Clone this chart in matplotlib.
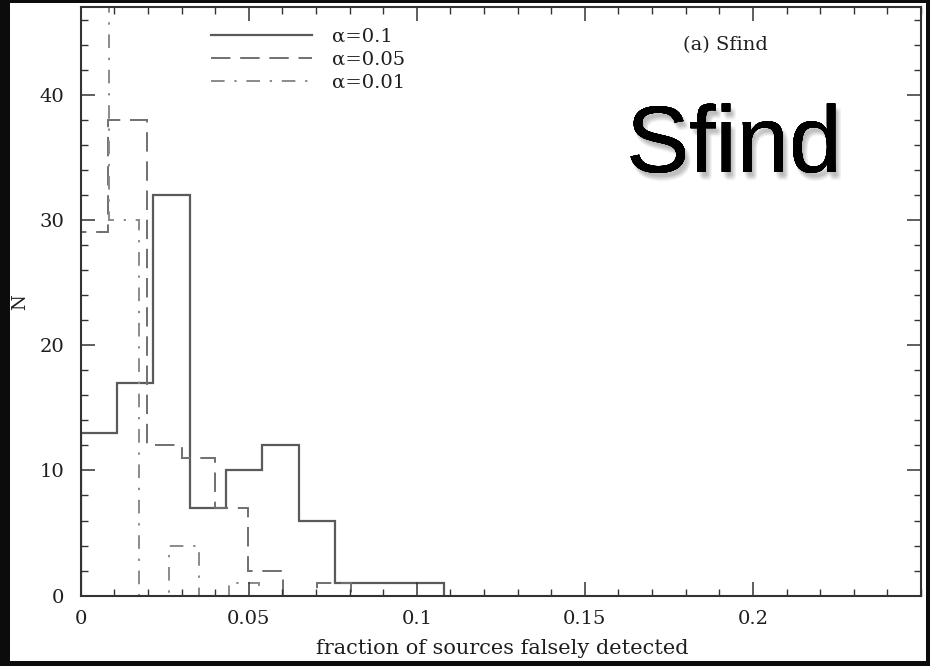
import matplotlib.pyplot as plt
import matplotlib.patheffects as pe
from matplotlib.patches import Rectangle
from matplotlib.ticker import MultipleLocator

# histogram (bin edges in fraction, counts N)
edges_01 = [0, 0.0108, 0.0216, 0.0324, 0.0432, 0.054, 0.0648, 0.0756, 0.0864, 0.0972, 0.108]
counts_01 = [13, 17, 32, 7, 10, 12, 6, 1, 1, 1]

edges_005 = [0, 0.0081, 0.0198, 0.0301, 0.0400, 0.0498, 0.0602, 0.0703, 0.0805]
counts_005 = [29, 38, 12, 11, 7, 2, 0, 1]

edges_001 = [0, 0.0085, 0.0174, 0.0263, 0.0353, 0.0441, 0.0529]
counts_001 = [55, 30, 0, 4, 0, 1]

labels = ['\u03b1=0.1', '\u03b1=0.05', '\u03b1=0.01']
xticks = [0, 0.05, 0.1, 0.15, 0.2]
xticklabels = ['0', '0.05', '0.1', '0.15', '0.2']
yticks = [0, 10, 20, 30, 40]

plt.rcParams['font.family'] = ['DejaVu Serif']

fig = plt.figure(figsize=(9.3, 6.66), dpi=100, facecolor='#0c0c0c')
# white slide panel behind the plot
fig.patches.append(Rectangle((10 / 930, 5 / 666), 916 / 930, 658 / 666,
                             transform=fig.transFigure, facecolor='white',
                             edgecolor='none', zorder=-10))

ax = fig.add_axes([0.0868, 0.1056, 0.9035, 0.8839])

ax.stairs(counts_01, edges_01, color='#5a5a5a', lw=1.6, ls='-', label=labels[0])
ax.stairs(counts_005, edges_005, color='#707070', lw=1.4, ls=(0, (10, 5)), label=labels[1])
ax.stairs(counts_001, edges_001, color='#8a8a8a', lw=1.4, ls=(0, (7, 5, 1.2, 5)), label=labels[2])

ax.set_xlim(0, 0.25)
ax.set_ylim(0, 47)
ax.set_xticks(xticks)
ax.set_xticklabels(xticklabels)
ax.set_yticks(yticks)
ax.xaxis.set_minor_locator(MultipleLocator(0.01))
ax.yaxis.set_minor_locator(MultipleLocator(2))
ax.tick_params(which='both', direction='in', top=True, right=True, color='#333333')
ax.tick_params(which='major', length=10, width=1.1, labelsize=14, labelcolor='#1e1e1e')
ax.tick_params(axis='x', which='major', pad=10)
ax.tick_params(axis='y', which='major', pad=12)
ax.tick_params(which='minor', length=5, width=1)
for s in ax.spines.values():
    s.set_color('#333333')
    s.set_linewidth(1.5)

leg = ax.legend(loc='upper left', bbox_to_anchor=(0.155, 0.965), frameon=False,
                fontsize=14, handlelength=5.2, handletextpad=1.0, labelspacing=0.25,
                borderaxespad=0, borderpad=0)
for t in leg.get_texts():
    t.set_color('#1e1e1e')

ax.text(0.767, 0.935, '(a) Sfind', transform=ax.transAxes, ha='center', va='center',
        fontsize=14, color='#1e1e1e')

fig.text(20 / 930, 1 - 302 / 666, 'N', rotation=90, ha='center', va='center',
         fontsize=13, color='#1e1e1e')
fig.text(502 / 930, 1 - 648 / 666, 'fraction of sources falsely detected',
         ha='center', va='center', fontsize=15, color='#1e1e1e')

# big slide title with a soft drop shadow
shadow = [pe.withSimplePatchShadow(offset=off, shadow_rgbFace='#555555', alpha=0.06)
          for off in [(1, -2), (2, -3), (3, -4), (2, -5), (4, -5), (3, -6), (1, -4), (4, -3)]]
fig.text(734 / 930, 1 - 172 / 666, 'Sfind', ha='center', va='baseline',
         fontsize=68, family='Liberation Sans', color='black',
         path_effects=shadow + [pe.Normal()])

fig.savefig('out.png', dpi=100, facecolor=fig.get_facecolor())
